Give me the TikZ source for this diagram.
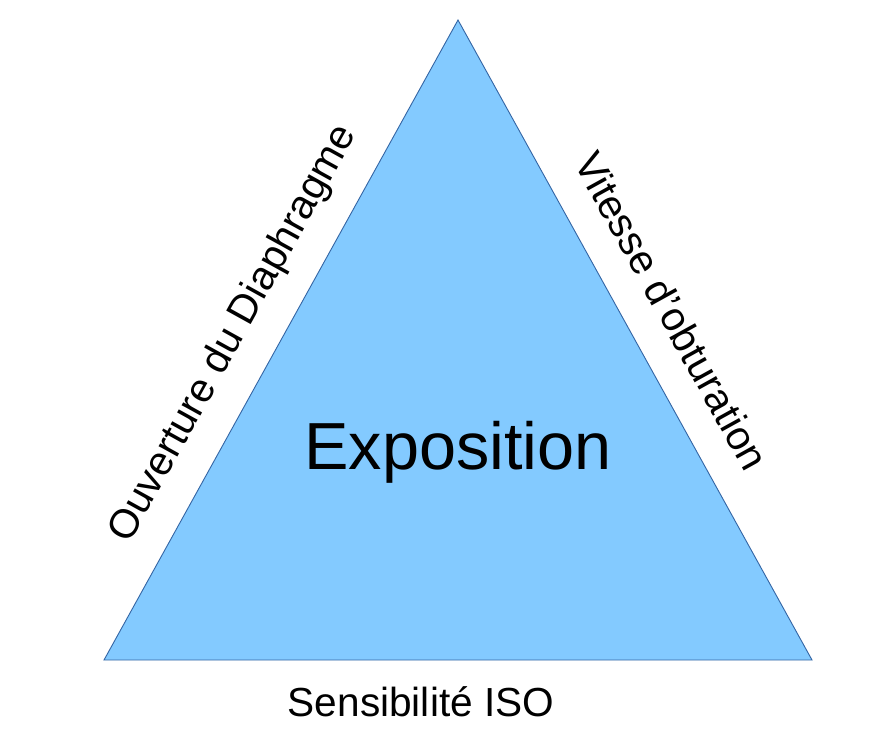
\documentclass[tikz,border=0pt]{standalone}
\usepackage{fontspec}
\setmainfont{Liberation Sans}
\definecolor{trifill}{HTML}{83CAFF}
\definecolor{triline}{HTML}{3465A4}
\begin{document}
\begin{tikzpicture}[x=1pt,y=-1pt,
  side/.style={font=\fontsize{40.6}{48}\selectfont, inner sep=0pt},
  big/.style={font=\fontsize{66.6}{78}\selectfont, inner sep=0pt}]
\useasboundingbox[fill=white] (0,0) rectangle (873,735);
\coordinate (A) at (458,20);
\coordinate (B) at (104,660);
\coordinate (C) at (812,660);
\fill[trifill] (A) -- (B) -- (C) -- cycle;
\draw[triline, line width=0.9pt, line join=miter] (A) -- (B) -- (C) -- cycle;
\node[big, anchor=base] (expo) at (458,469) {Exposition};
\node[side, anchor=base] (iso) at (421,716) {Sensibilité ISO};
\node[side, rotate=61.05] (ouv) at (234,334) {Ouverture du Diaphragme};
\node[side, rotate=-61.05] (vit) at (672,311) {Vitesse d'obturation};
\end{tikzpicture}
\end{document}
